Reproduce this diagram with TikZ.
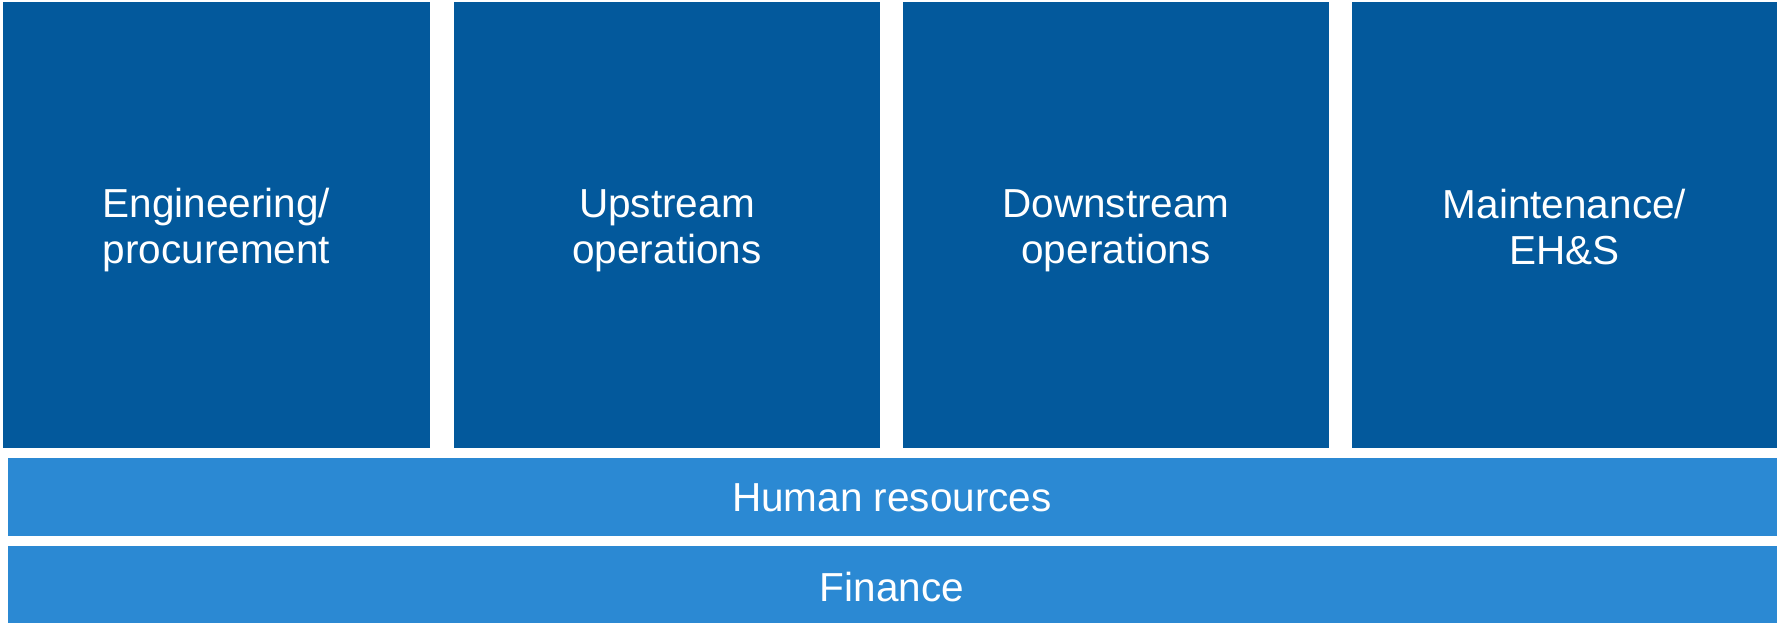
\documentclass[tikz,border=0pt]{standalone}
\usepackage{fontspec}
\setmainfont{Liberation Sans}
\definecolor{darkblue}{HTML}{03599C}
\definecolor{lightblue}{HTML}{2B89D3}
\begin{document}
\begin{tikzpicture}[x=1pt,y=-1pt,
  txt/.style={text=white,font=\fontsize{40.5}{46}\selectfont,align=center},
  topbox/.style={fill=darkblue,draw=none},
  bar/.style={fill=lightblue,draw=none}]
\useasboundingbox (0,0) rectangle (1777,623);
\fill[topbox] (3,2) rectangle (430,448);
\fill[topbox] (454,2) rectangle (880,448);
\fill[topbox] (903,2) rectangle (1329,448);
\fill[topbox] (1352,2) rectangle (1777,448);
\fill[bar] (8,458) rectangle (1777,536);
\fill[bar] (8,546) rectangle (1777,623);
\node[txt] (eng) at (216.5,230.5) {Engineering/\\procurement};
\node[txt] (up) at (667,230.5) {Upstream\\operations};
\node[txt] (down) at (1116,230.5) {Downstream\\operations};
\node[txt] (maint) at (1564.5,227) {Maintenance/\\EH\&S};
\node[txt] (hr) at (892,498) {Human resources};
\node[txt] (fin) at (892,587) {Finance};
\end{tikzpicture}
\end{document}
